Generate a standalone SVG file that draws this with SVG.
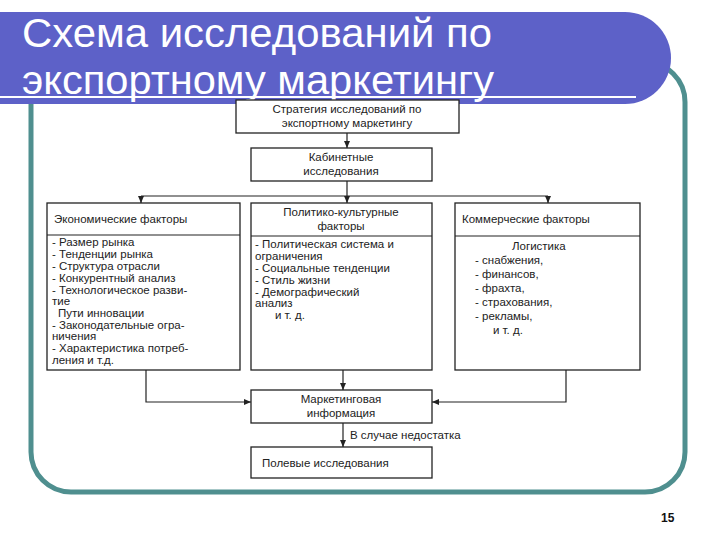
<svg xmlns="http://www.w3.org/2000/svg" width="720" height="540" viewBox="0 0 720 540">
<style>
.b{fill:#fff;stroke:#222;stroke-width:1.3}
.t{font-family:"Liberation Sans",Arial,sans-serif;font-size:11.5px;fill:#222}
.c{text-anchor:middle}
.l{stroke:#222;stroke-width:1.2;fill:none}
.h{font-family:"Liberation Sans",Arial,sans-serif;font-size:40px;fill:#fff}
</style>
<defs><marker id="a" markerWidth="8" markerHeight="8" refX="7" refY="4" orient="auto" markerUnits="userSpaceOnUse"><path d="M0,1 L7,4 L0,7z" fill="#222"/></marker></defs>
<rect width="720" height="540" fill="#fff"/>
<rect x="31" y="62" width="654" height="430" rx="40" fill="none" stroke="#4f8f8f" stroke-width="5"/>
<path d="M0,12 H625 A46,46 0 0 1 625,104 H0 Z" fill="#5d61c8"/>
<line x1="0" y1="97" x2="636" y2="97" stroke="#fff" stroke-width="2"/>
<text class="h" x="22" y="47" textLength="470" lengthAdjust="spacingAndGlyphs">Схема исследований по</text>
<text class="h" x="22" y="94" textLength="472" lengthAdjust="spacingAndGlyphs">экспортному маркетингу</text>
<g id="connectors">
<line class="l" x1="347" y1="133" x2="347" y2="148" marker-end="url(#a)"/>
<line class="l" x1="347" y1="181" x2="347" y2="196"/>
<line class="l" x1="141" y1="196" x2="548" y2="196"/>
<line class="l" x1="141" y1="196" x2="141" y2="203" marker-end="url(#a)"/>
<line class="l" x1="347" y1="196" x2="347" y2="203" marker-end="url(#a)"/>
<line class="l" x1="548" y1="196" x2="548" y2="203" marker-end="url(#a)"/>
<path class="l" d="M146,370 V402 H251" marker-end="url(#a)"/>
<path class="l" d="M566,370 V402 H432" marker-end="url(#a)"/>
<line class="l" x1="343" y1="370" x2="343" y2="390" marker-end="url(#a)"/>
<line class="l" x1="343" y1="423" x2="343" y2="447" marker-end="url(#a)"/>
<text class="t" x="350" y="439">В случае недостатка</text>
</g>
<g id="strategy"><rect class="b" x="236" y="100" width="223" height="33"/>
<text class="t c" x="347" y="113">Стратегия исследований по</text><text class="t c" x="347" y="127">экспортному маркетингу</text></g>
<g id="cabinet"><rect class="b" x="251" y="148" width="181" height="33"/>
<text class="t c" x="341" y="161">Кабинетные</text><text class="t c" x="341" y="175">исследования</text></g>
<g id="econ"><rect class="b" x="47" y="203" width="193" height="167"/><line class="l" x1="47" y1="235" x2="240" y2="235"/>
<text class="t" x="54" y="223">Экономические факторы</text>
<text class="t" x="52" y="246">- Размер рынка</text>
<text class="t" x="52" y="258">- Тенденции рынка</text>
<text class="t" x="52" y="270">- Структура отрасли</text>
<text class="t" x="52" y="282">- Конкурентный анализ</text>
<text class="t" x="52" y="294">- Технологическое разви-</text>
<text class="t" x="52" y="305">тие</text>
<text class="t" x="58" y="317">Пути инновации</text>
<text class="t" x="52" y="329">- Законодательные огра-</text>
<text class="t" x="52" y="340">ничения</text>
<text class="t" x="52" y="352">- Характеристика потреб-</text>
<text class="t" x="52" y="364">ления и т.д.</text></g>
<g id="polit"><rect class="b" x="251" y="203" width="181" height="167"/><line class="l" x1="251" y1="236" x2="432" y2="236"/>
<text class="t c" x="341" y="216">Политико-культурные</text><text class="t c" x="341" y="230">факторы</text>
<text class="t" x="255" y="248">- Политическая система и</text>
<text class="t" x="255" y="260">ограничения</text>
<text class="t" x="255" y="272">- Социальные тенденции</text>
<text class="t" x="255" y="284">- Стиль жизни</text>
<text class="t" x="255" y="296">- Демографический</text>
<text class="t" x="255" y="307">анализ</text>
<text class="t" x="275" y="319">и т. д.</text></g>
<g id="commerce"><rect class="b" x="455" y="203" width="185" height="167"/><line class="l" x1="455" y1="236" x2="640" y2="236"/>
<text class="t" x="462" y="223">Коммерческие факторы</text>
<text class="t" x="512" y="250">Логистика</text>
<text class="t" x="475" y="264">- снабжения,</text>
<text class="t" x="475" y="278">- финансов,</text>
<text class="t" x="475" y="292">- фрахта,</text>
<text class="t" x="475" y="306">- страхования,</text>
<text class="t" x="475" y="320">- рекламы,</text>
<text class="t" x="493" y="334">и т. д.</text></g>
<g id="info"><rect class="b" x="251" y="390" width="181" height="33"/>
<text class="t c" x="341" y="403">Маркетинговая</text><text class="t c" x="341" y="417">информация</text></g>
<g id="field"><rect class="b" x="251" y="447" width="181" height="31"/>
<text class="t" x="262" y="467">Полевые исследования</text></g>
<text x="661" y="522" font-family="Liberation Sans,Arial,sans-serif" font-size="12" font-weight="bold" fill="#111">15</text>
</svg>
